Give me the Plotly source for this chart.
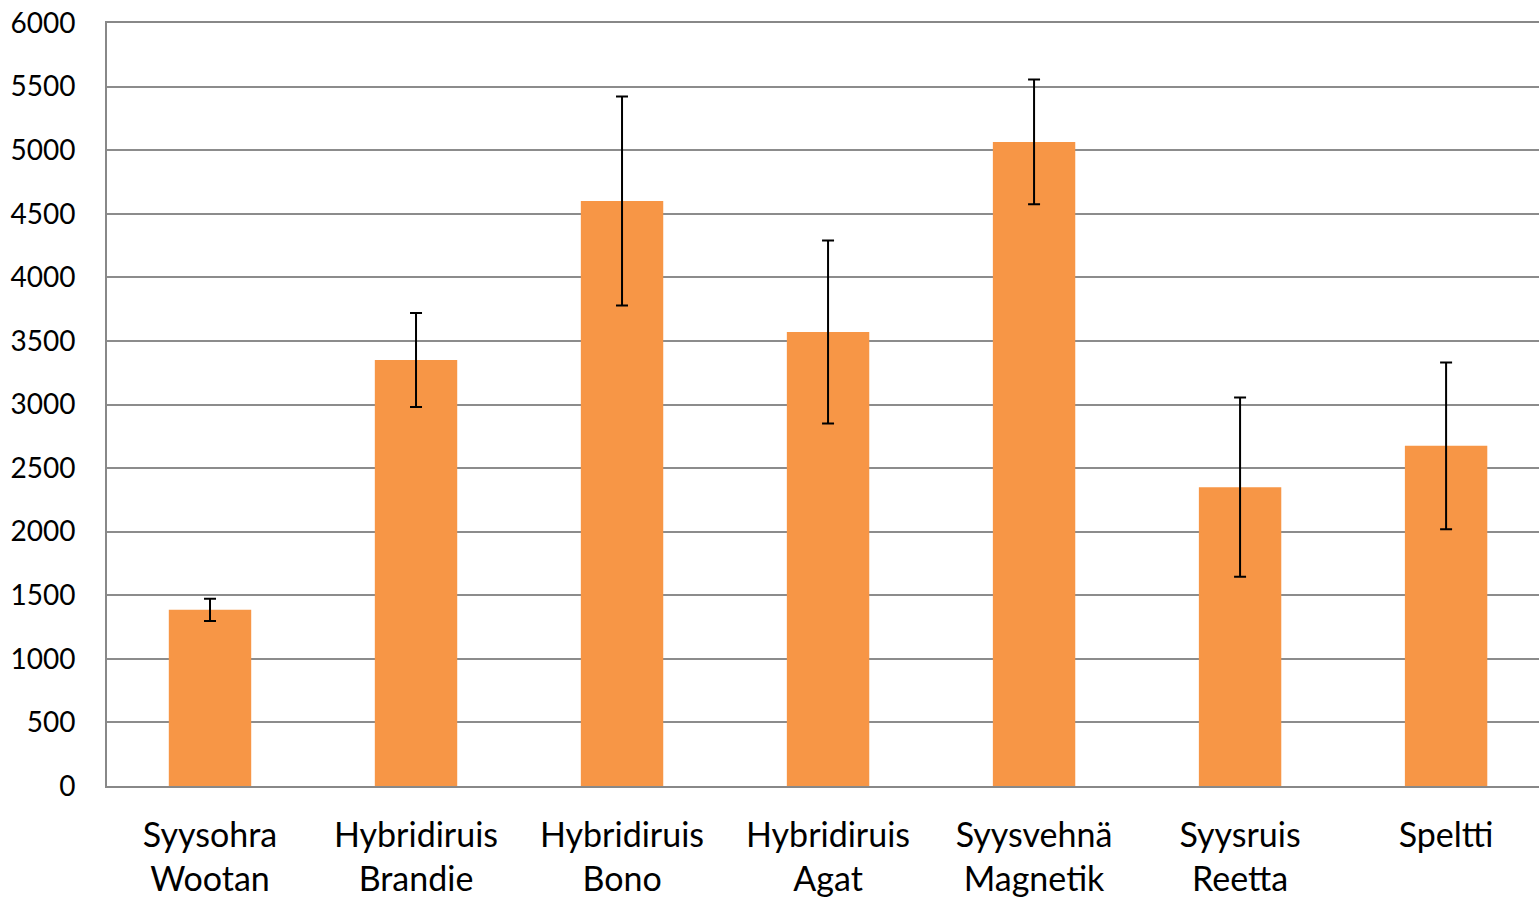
import plotly.graph_objects as go

categories = ["Syysohra<br>Wootan", "Hybridiruis<br>Brandie", "Hybridiruis<br>Bono",
              "Hybridiruis<br>Agat", "Syysvehnä<br>Magnetik", "Syysruis<br>Reetta", "Speltti"]
values = [1385, 3350, 4600, 3570, 5065, 2350, 2675]
errors = [87, 370, 822, 720, 490, 705, 656]
y_ticks = list(range(0, 6001, 500))

fig = go.Figure(go.Bar(
    x=list(range(len(categories))), y=values,
    marker=dict(color="#F79646", line=dict(width=0)),
    error_y=dict(type="data", array=errors, visible=True, color="black", thickness=2, width=6),
))

fig.update_layout(
    width=1539, height=898,
    margin=dict(l=107, r=0, t=23, b=112),
    paper_bgcolor="white", plot_bgcolor="white",
    bargap=0.6, showlegend=False,
    font=dict(family="Lato", size=28, color="black"),
)
fig.update_xaxes(
    tickmode="array", tickvals=list(range(len(categories))), ticktext=categories,
    range=[-0.5, 6.451], showgrid=False, showline=True, linecolor="#888888", linewidth=2,
    mirror=True, automargin=False,
    ticks="", ticklabelstandoff=18, tickfont=dict(size=34),
)
fig.update_yaxes(
    range=[0, 6000], tickmode="array", tickvals=y_ticks, ticktext=[str(v) for v in y_ticks],
    showgrid=True, gridcolor="#8c8c8c", gridwidth=2,
    showline=True, linecolor="#888888", linewidth=2, zeroline=False, automargin=False,
    ticklabeloverflow="allow",
    ticks="", ticklabelstandoff=24, tickfont=dict(size=28),
)

fig.write_html("out.html", config={"displayModeBar": False},
               post_script="document.body.style.margin='0';")
